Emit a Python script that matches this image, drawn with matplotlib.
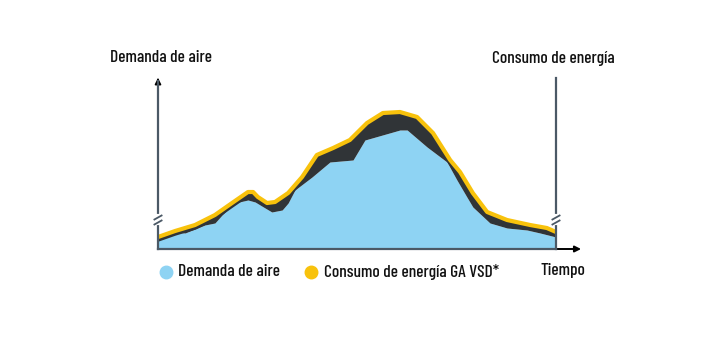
import matplotlib
matplotlib.use('Agg')
import matplotlib.pyplot as plt
import numpy as np
from matplotlib.lines import Line2D

# time in % of the period, values in arbitrary units
t_demand = [0, 4.3, 6.8, 11.8, 14.3, 16.1, 19.3, 22.6, 24.4, 26.9, 28.6, 31.2, 32.7,
            34.4, 38.7, 43.2, 49.0, 52.0, 60.8, 62.6, 67.6, 72.6, 75.1, 77.6, 79.1,
            83.4, 87.7, 92.7, 96.0, 100]
demand = [9, 17, 16, 24, 26, 34, 46, 49, 47, 41, 37, 39, 46,
          59, 72, 87, 89, 109, 119, 119, 102, 87, 69, 52, 42,
          26, 21, 19, 16, 12]

t_energy = [0, 4.3, 9.3, 14.3, 18.6, 22.6, 23.9, 25.1, 27.4, 29.4, 32.7, 36.2, 39.9,
            44.0, 48.2, 52.5, 56.5, 60.8, 65.1, 69.1, 73.4, 75.9, 79.1, 82.7, 87.7,
            93.5, 97.7, 100]
energy = [12, 18, 24, 34, 46, 57, 57, 52, 46, 47, 56, 72, 94,
          101, 109, 126, 136, 137, 132, 116, 89, 77, 56, 37, 29,
          24, 21, 17]

labels = ['Demanda de aire', 'Consumo de energía GA VSD*']
ylabel_left = 'Demanda de aire'
ylabel_right = 'Consumo de energía'
xlabel = 'Tiempo'

BLUE = '#8ED3F3'
YELLOW = '#F8C20C'
DARK = '#303437'
AXIS = '#4B5966'
FONT = dict(family=['Barlow Condensed', 'Roboto Condensed', 'DejaVu Sans'],
            weight='medium', fontsize=12.5, color='#111111')

fig = plt.figure(figsize=(7.2, 3.4), dpi=100)
W, H = 720, 340
x0, x1, ybase, ytop = 158, 556, 249, 75
ax = fig.add_axes([x0 / W, (H - ybase) / H, (x1 - x0) / W, (ybase - ytop) / H])
ax.set_xlim(0, 100)
ax.set_ylim(0, ybase - ytop)
ax.axis('off')

ax.fill_between(t_demand, 0, demand, color=BLUE, lw=0, zorder=1)
# dark band between demand and energy, plus the shadow under the yellow line
tall = np.union1d(t_demand, t_energy)
lo = np.interp(tall, t_demand, demand)
hi = np.interp(tall, t_energy, energy)
ax.fill_between(tall, np.minimum(lo, hi), hi, color=DARK, lw=0, zorder=2)
ax.plot(t_energy, np.array(energy) - 2.5, color=DARK, lw=3.2,
        solid_joinstyle='round', zorder=2)
ax.plot(t_energy, energy, color=YELLOW, lw=3.0, solid_capstyle='round',
        solid_joinstyle='round', zorder=3)

# axes lines
ax.plot([0, 0], [0, 168], color=AXIS, lw=1.6, clip_on=False, zorder=4)
ax.plot([100, 100], [0, 171], color=AXIS, lw=1.6, clip_on=False, zorder=4)
ax.plot([0, 100], [0, 0], color=AXIS, lw=1.6, clip_on=False, zorder=4)
ax.annotate('', xy=(0, 174), xytext=(0, 165),
            arrowprops=dict(arrowstyle='-|>', color='black', lw=1.2,
                            mutation_scale=9), annotation_clip=False)
ax.annotate('', xy=(107, 0), xytext=(99, 0),
            arrowprops=dict(arrowstyle='-|>', color='black', lw=1.4,
                            mutation_scale=9), annotation_clip=False)

# axis breaks
for xb in (0, 100):
    ax.plot([xb, xb], [26, 33], color='white', lw=3, clip_on=False, zorder=5)
    for yb in (26.5, 31.5):
        ax.plot([xb - 0.9, xb + 0.9], [yb - 2, yb + 2], color=AXIS, lw=1.3,
                clip_on=False, zorder=6)

fig.text(110 / W, 1 - 58 / H, ylabel_left, va='center', ha='left', **FONT)
fig.text(615 / W, 1 - 58 / H, ylabel_right, va='center', ha='right', **FONT)
fig.text(585 / W, 1 - 271 / H, xlabel, va='center', ha='right', **FONT)

# legend
for cx, tx, col, lab in [(166, 178, BLUE, labels[0]), (311, 324, YELLOW, labels[1])]:
    fig.add_artist(Line2D([cx / W], [1 - 272 / H], marker='o', markersize=9,
                          color=col, lw=0, transform=fig.transFigure))
    fig.text(tx / W, 1 - 272 / H, lab, va='center', ha='left', **FONT)

fig.savefig('out.png', dpi=100, facecolor='white')
